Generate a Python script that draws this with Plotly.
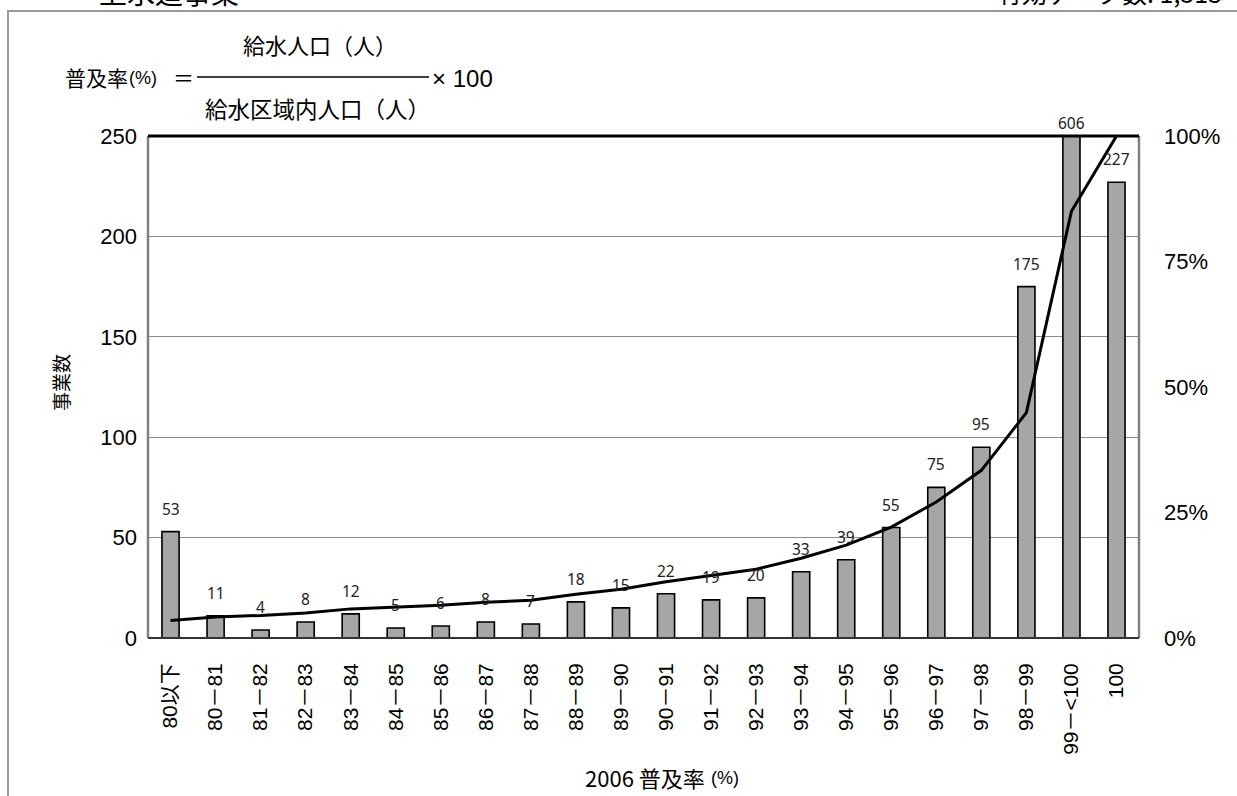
import plotly.graph_objects as go

categories = ["80以下", "80－81", "81－82", "82－83", "83－84", "84－85", "85－86", "86－87",
              "87－88", "88－89", "89－90", "90－91", "91－92", "92－93", "93－94", "94－95",
              "95－96", "96－97", "97－98", "98－99", "99－<100", "100"]
counts = [53, 11, 4, 8, 12, 5, 6, 8, 7, 18, 15, 22, 19, 20, 33, 39, 55, 75, 95, 175, 606, 227]
cumulative_pct = [3.5, 4.2, 4.5, 5.0, 5.8, 6.1, 6.5, 7.1, 7.5, 8.7, 9.7, 11.2, 12.4, 13.7,
                  15.9, 18.5, 22.1, 27.1, 33.4, 44.9, 85.0, 100.0]
left_ticks = [0, 50, 100, 150, 200, 250]
right_ticks = [0, 25, 50, 75, 100]
right_labels = ["0%", "25%", "50%", "75%", "100%"]

W, H = 1237, 796
L, R, T, B = 148, 98, 136, 158
PW, PH = W - L - R, H - T - B
FONT = "Liberation Sans, Arial, Noto Sans CJK JP"
JP = "Noto Sans CJK JP, Liberation Sans"


def px(xp):
    return (xp - L) / PW


def py(yp):
    return 1 - (yp - T) / PH


fig = go.Figure()
fig.add_trace(go.Bar(
    x=list(range(len(categories))), y=counts,
    marker=dict(color="#a6a6a6", line=dict(color="black", width=1.6)),
    showlegend=False, hoverinfo="skip"))
fig.add_trace(go.Scatter(
    x=list(range(len(categories))), y=cumulative_pct, yaxis="y2", mode="lines",
    line=dict(color="black", width=3), showlegend=False, cliponaxis=False, hoverinfo="skip"))

ymax = left_ticks[-1]
for i, v in enumerate(counts):
    fig.add_annotation(x=i, y=min(v, ymax), xref="x", yref="y", text=str(v), showarrow=False,
                       xanchor="center", yanchor="bottom", yshift=10 if v <= ymax else 0,
                       font=dict(family="Noto Sans, Liberation Sans", size=15.5, color="#222"))

fig.update_layout(
    width=W, height=H, margin=dict(l=L, r=R, t=T, b=B),
    paper_bgcolor="white", plot_bgcolor="white", bargap=0.62,
    font=dict(family=FONT, color="black"),
    xaxis=dict(range=[-0.5, len(categories) - 0.5], tickvals=list(range(len(categories))),
               ticktext=categories, showgrid=False, tickangle=-90, ticks="", ticklabelstandoff=20,
               tickfont=dict(size=21, family=FONT), showline=False, zeroline=False),
    yaxis=dict(range=[0, ymax], tickvals=left_ticks, showgrid=True, gridcolor="#8c8c8c",
               gridwidth=1, zeroline=False, ticks="", ticklabelstandoff=10,
               tickfont=dict(size=22, family=FONT), showline=False),
    yaxis2=dict(range=[0, 100], tickvals=right_ticks, ticktext=right_labels, overlaying="y",
                side="right", showgrid=False, zeroline=False, ticks="", ticklabelstandoff=24,
                tickfont=dict(size=22, family=FONT), showline=False),
)

# plot frame
fig.add_shape(type="line", xref="paper", yref="paper", x0=0, x1=0, y0=0, y1=1,
              line=dict(color="#808080", width=2.5))
fig.add_shape(type="line", xref="paper", yref="paper", x0=1, x1=1, y0=0, y1=1,
              line=dict(color="#808080", width=2.5))
fig.add_shape(type="line", xref="paper", yref="paper", x0=0, x1=1, y0=0, y1=0,
              line=dict(color="#333", width=2))
fig.add_shape(type="line", xref="paper", yref="paper", x0=0, x1=1, y0=1, y1=1,
              line=dict(color="black", width=3))
# outer chart frame
fig.add_shape(type="rect", xref="paper", yref="paper", x0=px(8), x1=px(1250), y0=py(810), y1=py(11),
              line=dict(color="#999999", width=2))


def note(x, y, text, size, family=JP, xanchor="center", angle=0):
    fig.add_annotation(xref="paper", yref="paper", x=px(x), y=py(y), xanchor=xanchor,
                       yanchor="middle", text=text, showarrow=False, textangle=angle,
                       font=dict(family=family, size=size, color="black"))


# cut-off header texts
note(97, -8.5, "上水道事業", 28, xanchor="left")
note(1224, -7.8, "有効データ数: 1,513", 25, xanchor="right")

# formula
note(320, 44, "給水人口（人）", 22)
note(63, 77, "普及率", 21, xanchor="left")
note(127, 78, "(%)", 18, family=FONT, xanchor="left")
note(196, 77, "＝", 21, xanchor="right")
fig.add_shape(type="line", xref="paper", yref="paper", x0=px(197), x1=px(429), y0=py(77), y1=py(77),
              line=dict(color="black", width=1.5))
note(430, 78, "× 100", 24, family=FONT, xanchor="left")
note(317, 108, "給水区域内人口（人）", 22.5)

# axis titles
note(60, 383, "事業数", 19, angle=-90)
note(707, 777, "2006 普及率", 22, xanchor="right")
note(709, 778, "(%)", 18, family=FONT, xanchor="left")

fig.write_html("out.html", config={"displayModeBar": False},
               post_script="document.body.style.margin='0';document.body.style.overflow='hidden';")
